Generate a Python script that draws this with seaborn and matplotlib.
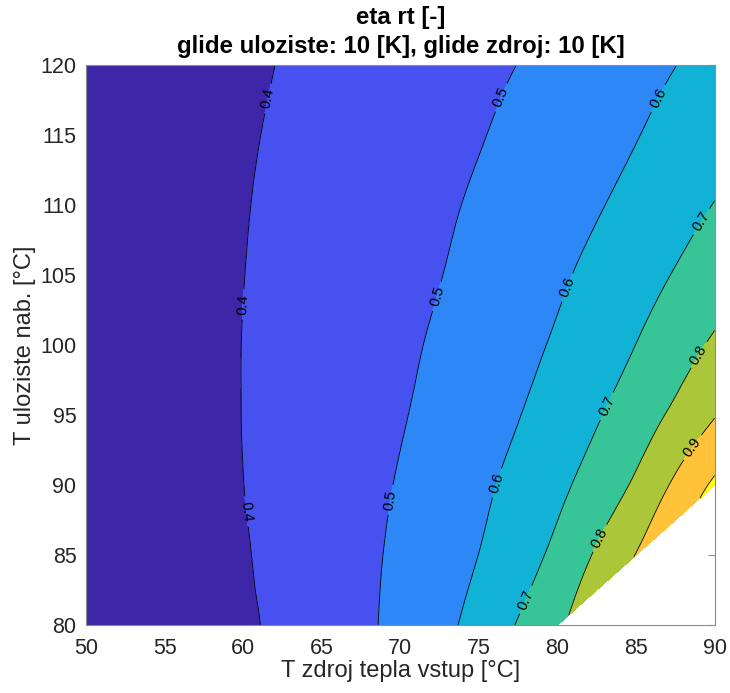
import numpy as np
import matplotlib
matplotlib.use("Agg")
import matplotlib.pyplot as plt
import matplotlib.tri as mtri
from matplotlib.colors import ListedColormap, BoundaryNorm
import seaborn as sns

# Heat-source inlet temperature (x) and storage charging temperature (y), °C
t_zdroj = [50, 52.5, 55, 57.5, 60, 62.5, 65, 67.5, 70, 72.5, 75, 77.5, 80, 82.5, 85, 87.5, 90]
t_uloziste = [80, 85, 90, 95, 100, 105, 110, 115, 120]

# Round-trip efficiency eta_rt [-], one list per storage temperature row
# (nan = operating point not feasible, storage below source temperature)
nan = np.nan
eta_80 = [0.330, 0.345, 0.360, 0.372, 0.387, 0.419, 0.452, 0.484, 0.525, 0.575, 0.634, 0.706, 0.782, nan, nan, nan, nan]
eta_85 = [0.330, 0.345, 0.360, 0.372, 0.394, 0.4235, 0.453, 0.482, 0.517, 0.559, 0.601, 0.659, 0.7245, 0.812, 0.903, nan, nan]
eta_90 = [0.335, 0.350, 0.363, 0.375, 0.3995, 0.4257, 0.4518, 0.478, 0.506, 0.544, 0.582, 0.627, 0.679, 0.742, 0.816, 0.918, 1.016]
eta_95 = [0.335, 0.350, 0.363, 0.377, 0.4014, 0.4246, 0.4479, 0.4711, 0.4944, 0.5268, 0.562, 0.597, 0.644, 0.692, 0.7525, 0.819, 0.895]
eta_100 = [0.335, 0.350, 0.363, 0.378, 0.4013, 0.4225, 0.4438, 0.465, 0.4863, 0.5116, 0.5439, 0.5761, 0.6115, 0.6558, 0.701, 0.7595, 0.812]
eta_105 = [0.335, 0.350, 0.364, 0.380, 0.3992, 0.419, 0.4387, 0.4585, 0.4782, 0.498, 0.5272, 0.5575, 0.5877, 0.6242, 0.6645, 0.706, 0.756]
eta_110 = [0.340, 0.352, 0.365, 0.378, 0.3963, 0.4148, 0.4333, 0.4518, 0.4703, 0.4888, 0.511, 0.5385, 0.566, 0.5935, 0.6283, 0.6656, 0.7028]
eta_115 = [0.340, 0.353, 0.366, 0.378, 0.3924, 0.4097, 0.4269, 0.4442, 0.4614, 0.4787, 0.4959, 0.5196, 0.5453, 0.5711, 0.5968, 0.6308, 0.666]
eta_120 = [0.340, 0.353, 0.366, 0.376, 0.387, 0.4033, 0.4195, 0.4358, 0.452, 0.4683, 0.4845, 0.501, 0.5255, 0.550, 0.5745, 0.599, 0.631]

fill_levels = [0.2, 0.4, 0.5, 0.6, 0.7, 0.8, 0.9, 1.0, 1.2]
line_levels = [0.4, 0.5, 0.6, 0.7, 0.8, 0.9, 1.0]
label_levels = [0.4, 0.5, 0.6, 0.7, 0.8, 0.9]

# Label anchor points along the isolines (x, y)
label_points = [
    (61.6, 117.6), (60.0, 102.9), (60.1, 88.1),
    (76.6, 117.6), (72.3, 103.5), (69.6, 88.9),
    (86.6, 117.5), (80.9, 104.0), (76.3, 90.1),
    (89.2, 108.8), (83.0, 95.7), (78.0, 81.8),
    (89.0, 99.3), (82.7, 86.2),
    (88.7, 92.6),
]

# parula-like palette, one colour per band
band_colors = ["#3E26A8", "#4751F0", "#2D87F7", "#12B1D6",
               "#37C597", "#ABC739", "#FEC338", "#F9FB14"]

sns.set_theme(style="white")
plt.rcParams["font.family"] = ["Liberation Sans", "DejaVu Sans"]

grid = np.array([eta_80, eta_85, eta_90, eta_95, eta_100,
                 eta_105, eta_110, eta_115, eta_120])
xx, yy = np.meshgrid(t_zdroj, t_uloziste)
valid = ~np.isnan(grid)
px, py, zz = xx[valid], yy[valid], grid[valid]

# Triangulate on slightly sheared coordinates so every grid cell is split
# along the same diagonal, then smooth the field on a refined mesh
base = mtri.Triangulation(px - 0.3 * py, py)
tri = mtri.Triangulation(px, py, triangles=base.triangles)
fine_tri, fine_z = mtri.UniformTriRefiner(tri).refine_field(zz, subdiv=3)

cmap = ListedColormap(band_colors)
norm = BoundaryNorm(fill_levels, cmap.N)

fig = plt.figure(figsize=(7.30, 6.93), dpi=100)
ax = fig.add_axes([0.118, 0.098, 0.861, 0.808])

ax.tricontourf(fine_tri, fine_z, levels=fill_levels, cmap=cmap, norm=norm)
cs = ax.tricontour(fine_tri, fine_z, levels=line_levels, colors="black", linewidths=0.6)
ax.clabel(cs, levels=label_levels, manual=label_points, inline=True,
          inline_spacing=5, fmt="%.1f", fontsize=10.5, colors="black")

ax.set_xlim(50, 90)
ax.set_ylim(80, 120)
ax.set_xticks(np.arange(50, 91, 5))
ax.set_yticks(np.arange(80, 121, 5))

text_color = "#262626"
ax.tick_params(direction="in", top=True, right=True, length=5, width=0.8,
               color="#8c8c8c", labelsize=15.5, labelcolor=text_color)
ax.tick_params(axis="x", pad=9)
ax.tick_params(axis="y", pad=7)
for sp in ax.spines.values():
    sp.set_color("#8c8c8c")
    sp.set_linewidth(0.8)

ax.set_xlabel("T zdroj tepla vstup [°C]", fontsize=17, color=text_color, labelpad=1)
ax.set_ylabel("T uloziste nab. [°C]", fontsize=17, color=text_color, labelpad=3)
ax.set_title("eta rt [-]\nglide uloziste: 10 [K], glide zdroj: 10 [K]",
             fontsize=17.3, fontweight="bold", color="black", pad=9, linespacing=1.3)

fig.savefig("out.png", dpi=100, facecolor="white")
